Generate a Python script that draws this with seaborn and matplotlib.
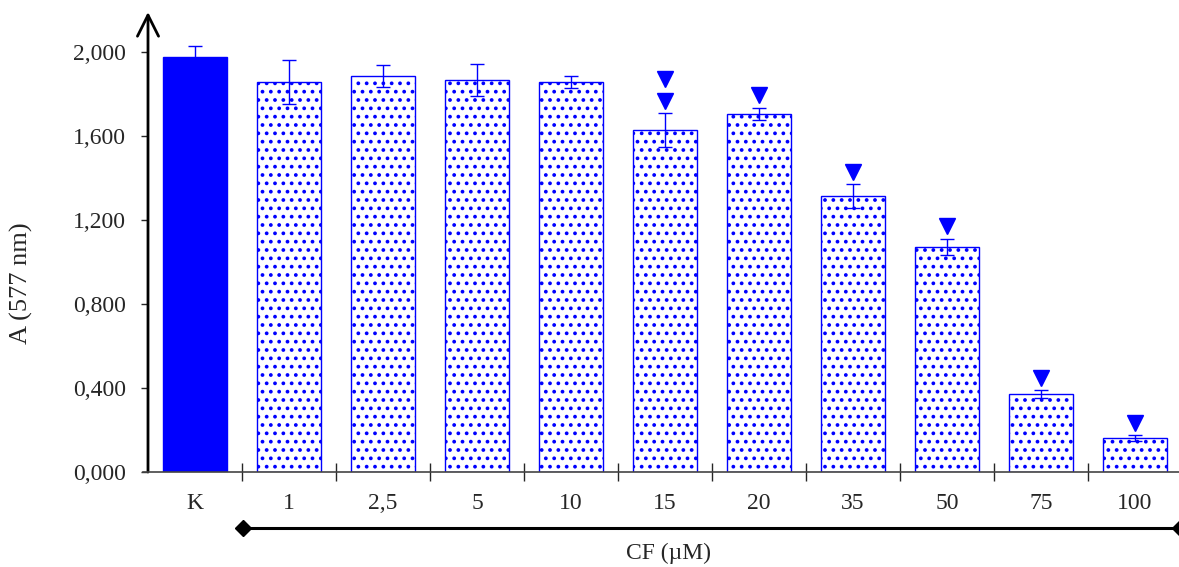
import seaborn as sns
import matplotlib.pyplot as plt
import pandas as pd

# data
labels = ['K', '1', '2,5', '5', '10', '15', '20', '35', '50', '75', '100']
values = [1.976, 1.857, 1.886, 1.867, 1.857, 1.629, 1.705, 1.314, 1.071, 0.371, 0.162]
errors = [0.05, 0.105, 0.052, 0.076, 0.03, 0.08, 0.03, 0.057, 0.04, 0.02, 0.015]
n_marks = [0, 0, 0, 0, 0, 2, 1, 1, 1, 1, 1]

df = pd.DataFrame({'CF': labels, 'A': values})

sns.set_style('white')
plt.rcParams['font.family'] = ['Liberation Serif', 'DejaVu Serif']
plt.rcParams['hatch.linewidth'] = 1.5
plt.rcParams['hatch.color'] = '#0000FF'

blue = '#0000FF'
fs = 17
fig = plt.figure(figsize=(11.79, 5.67), dpi=100)
ax = fig.add_axes([148 / 1179, 1 - 472 / 567, (1179 - 148) / 1179, (472 - 12) / 567])

sns.barplot(data=df, x='CF', y='A', color='white', width=0.68, ax=ax, errorbar=None)
for i, p in enumerate(ax.patches):
    p.set_edgecolor(blue)
    p.set_linewidth(1.0)
    if i == 0:
        p.set_facecolor(blue)
    else:
        p.set_facecolor('white')
        p.set_hatch('..')

x = list(range(len(labels)))
ax.errorbar(x, values, yerr=errors, fmt='none', ecolor=blue, elinewidth=1.0,
            capsize=5, capthick=1.0)

for i in x:
    for k in range(n_marks[i]):
        ax.plot(i, values[i] + errors[i] + 0.058 + k * 0.105, marker='v', color=blue,
                markersize=11, linestyle='none')

ax.set_xlim(-0.5, 10.47)
ax.set_ylim(0, 2.19)
ax.set_yticks([0, 0.4, 0.8, 1.2, 1.6, 2.0])
ax.set_yticklabels(['0,000', '0,400', '0,800', '1,200', '1,600', '2,000'])
ax.tick_params(axis='y', direction='out', length=5, width=1, labelsize=fs, pad=11, left=True)
ax.tick_params(axis='x', which='major', length=0, labelsize=fs, pad=15)
ax.set_xticks([i + 0.5 for i in range(10)], minor=True)
ax.tick_params(axis='x', which='minor', direction='inout', length=13, width=1, bottom=True)
ax.set_xlabel('')
ax.set_ylabel('A (577 nm)', fontsize=19)
ax.yaxis.set_label_coords((33 - 148) / 1031, (472 - 283) / 460)

for s in ['top', 'right']:
    ax.spines[s].set_visible(False)
ax.spines['left'].set_visible(False)
ax.spines['bottom'].set_color('#444444')
ax.spines['bottom'].set_linewidth(1.2)
ax.spines['bottom'].set_bounds(-0.55, 10.5)
ax.spines['bottom'].set_zorder(5)

# y axis with arrow head
ax.annotate('', xy=(0, 1.0), xycoords='axes fraction', xytext=(0, 0),
            arrowprops=dict(arrowstyle='->', color='black', lw=2, mutation_scale=38,
                            shrinkA=0, shrinkB=0), annotation_clip=False)

# bracket below the axis
y_br = 1 - 528 / 567
fig.add_artist(plt.Line2D([243 / 1179, 1179 / 1179], [y_br, y_br], color='black', lw=2.2))
fig.add_artist(plt.Line2D([243 / 1179], [y_br], marker='D', color='black', markersize=8))
fig.add_artist(plt.Line2D([1180 / 1179], [y_br], marker='D', color='black', markersize=8))
fig.text(668 / 1179, 1 - 553 / 567, 'CF (µM)', fontsize=fs, ha='center', va='center')

fig.savefig('out.png', dpi=100)
